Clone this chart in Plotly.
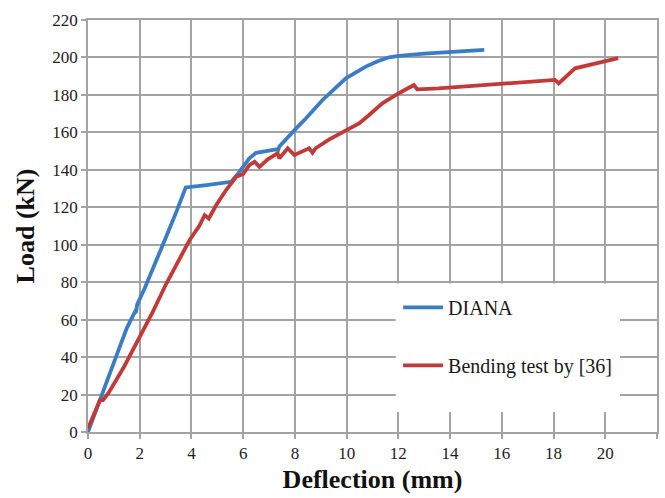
import plotly.graph_objects as go

# DIANA numerical curve
diana_x = [0, 0.25, 0.53, 1.0, 1.5, 1.81, 1.85, 1.9, 2.2, 2.45, 2.5, 2.97, 3.4, 3.78,
           4.5, 5.54, 5.86, 6.24, 6.5, 7.27, 7.35, 7.4, 8.04, 8.43, 9.07, 9.5, 9.97,
           10.74, 11.2, 11.64, 12.02, 13.0, 14.34, 15.32]
diana_y = [0, 9, 19.6, 37, 55.5, 64, 63.5, 68, 77, 85, 87, 102.5, 117, 130.6,
           131.7, 133.6, 139, 146.1, 149.1, 150.9, 150.5, 152.5, 162, 167.5, 177.3, 183, 188.9,
           195.1, 198, 200.1, 200.8, 202, 203.1, 204]

# Bending test curve
test_x = [0, 0.2, 0.46, 0.58, 0.8, 1.4, 2.0, 2.5, 3.03, 3.5, 3.93, 4.3, 4.51, 4.67, 4.96,
          5.34, 5.73, 5.99, 6.24, 6.44, 6.63, 6.95, 7.33, 7.4, 7.72, 7.98, 8.55, 8.68, 8.8,
          9.33, 9.97, 10.48, 10.87, 11.38, 12.02, 12.6, 12.73, 13.56, 18.06, 18.2, 18.83,
          19.22, 19.73, 20.5]
test_y = [2, 9, 17, 17, 21, 35, 50.8, 64, 79.3, 91, 102.5, 110, 115.8, 114, 121.2,
          129.2, 136.3, 137.7, 142.5, 144.3, 141.6, 145.6, 148.8, 146.1, 151.5, 147.9, 151.5, 149.1, 151.5,
          156.3, 161.3, 164.8, 169.3, 175.5, 180.9, 185.3, 183, 183.5, 188, 186.2, 194.2,
          195.5, 197.2, 199.6]

names = ["DIANA", "Bending test by [36]"]
colors = ["#3A7DC6", "#C23A37"]

x_ticks = list(range(0, 23, 2))
y_ticks = list(range(0, 221, 20))

FONT = "Liberation Serif, Times New Roman, serif"
GRID = "#A3A3A3"

fig = go.Figure()
fig.add_trace(go.Scatter(x=diana_x, y=diana_y, mode="lines", name=names[0],
                         legendgroup="a",
                         line=dict(color=colors[0], width=3.8)))
fig.add_trace(go.Scatter(x=test_x, y=test_y, mode="lines", name=names[1],
                         legendgroup="b",
                         line=dict(color=colors[1], width=3.8)))

# white legend box masking the grid
fig.add_shape(type="rect", xref="x", yref="y", x0=11.9, x1=20.57, y0=10.7, y1=79.3,
              fillcolor="white", line=dict(width=0), layer="between")

tick_font = dict(family=FONT, size=17, color="#222222")

fig.update_layout(
    width=665, height=498,
    margin=dict(l=88, r=6, t=20, b=66),
    paper_bgcolor="white", plot_bgcolor="white",
    font=dict(family=FONT, color="#222222", size=17),
    showlegend=True,
    legend=dict(x=0.545, y=0.35, xanchor="left", yanchor="top",
                bgcolor="rgba(0,0,0,0)", font=dict(size=20, family=FONT, color="#1a1a1a"),
                tracegroupgap=29, itemwidth=40),
    xaxis=dict(range=[0, 22], tickvals=x_ticks, ticktext=[str(v) for v in x_ticks],
               tickfont=tick_font,
               showgrid=True, gridcolor=GRID, gridwidth=1.5,
               showline=True, linecolor=GRID, linewidth=1.5, mirror=True,
               ticks="outside", ticklen=5, tickcolor=GRID, tickwidth=1.5,
               zeroline=False,
               title=dict(text="<b>Deflection (mm)</b>", font=dict(size=26, family=FONT, color="#111111"),
                          standoff=8)),
    yaxis=dict(range=[0, 220], tickvals=y_ticks, ticktext=[str(v) for v in y_ticks],
               tickfont=tick_font,
               showgrid=True, gridcolor=GRID, gridwidth=1.5,
               showline=True, linecolor=GRID, linewidth=1.5, mirror=True,
               ticks="outside", ticklen=5, tickcolor=GRID, tickwidth=1.5,
               zeroline=False,
               title=dict(text="<b>Load (kN)</b>", font=dict(size=26, family=FONT, color="#111111"),
                          standoff=10)),
)

fig.write_html("out.html")
